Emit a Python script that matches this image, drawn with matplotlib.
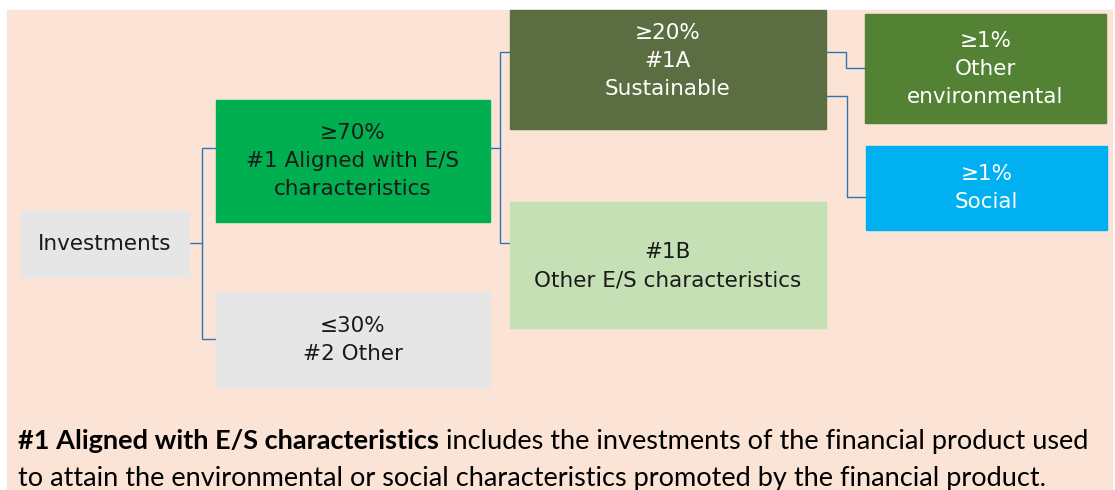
import matplotlib.pyplot as plt
from matplotlib.patches import Rectangle

# box texts and colours
box_labels = ["Investments",
              "≥70%\n#1 Aligned with E/S\ncharacteristics",
              "≤30%\n#2 Other",
              "≥20%\n#1A\nSustainable",
              "#1B\nOther E/S characteristics",
              "≥1%\nOther\nenvironmental",
              "≥1%\nSocial"]
box_colors = ["#E6E6E6", "#00B050", "#E6E6E6", "#5B6E41", "#C5E0B4", "#548235", "#00B0F0"]
text_colors = ["#1a1a1a", "#1a1a1a", "#1a1a1a", "white", "#1a1a1a", "white", "white"]

note_bold = "#1 Aligned with E/S characteristics"
note_rest = " includes the investments of the financial product used"
note_line2 = "to attain the environmental or social characteristics promoted by the financial product."

# layout in pixels: left, top, right, bottom  (+ y of text centre)
box_pos = [(21, 211, 189, 277), (216, 100, 490, 222), (216, 292, 490, 387),
           (510, 10, 826, 129), (510, 202, 826, 328), (865, 14, 1106, 123),
           (866, 146, 1107, 230)]
text_y = [244, 161, 340, 61, 266, 69, 188]

# connectors (elbows)
links = [[(189, 243), (202, 243)], [(216, 148), (202, 148), (202, 339), (216, 339)],
         [(490, 148), (500, 148)], [(510, 52), (500, 52), (500, 243), (510, 243)],
         [(826, 52), (846, 52), (846, 68), (865, 68)],
         [(826, 96), (847, 96), (847, 197), (866, 197)]]

fig = plt.figure(figsize=(11.15, 4.9), dpi=100)
ax = fig.add_axes([0, 0, 1, 1])
ax.set_xlim(0, 1115)
ax.set_ylim(490, 0)
ax.axis("off")

ax.add_patch(Rectangle((7, 10), 1105, 480, color="#FBE3D6", zorder=0))

for pts in links:
    xs, ys = zip(*pts)
    ax.plot(xs, ys, color="#2E75B6", lw=1.0, zorder=1)

for lab, col, tc, (x0, y0, x1, y1), ty in zip(box_labels, box_colors, text_colors, box_pos, text_y):
    ax.add_patch(Rectangle((x0, y0), x1 - x0, y1 - y0, color=col, zorder=2))
    lines = lab.split("\n")
    n = len(lines)
    for i, ln in enumerate(lines):
        ax.text((x0 + x1) / 2, ty + (i - (n - 1) / 2) * 28, ln, ha="center", va="center",
                color=tc, fontsize=15.5, family="DejaVu Sans", zorder=3)

# footnote, fitted to the width of the original line
r = fig.canvas.get_renderer()
fs = 16
t1 = ax.text(18, 449, note_bold, fontweight="bold", family="Lato", fontsize=fs, va="baseline")
t2 = ax.text(0, 449, note_rest, family="Lato", fontsize=fs, va="baseline")
w = t1.get_window_extent(r).width + t2.get_window_extent(r).width
fs = fs * 1077 / w
t1.set_fontsize(fs)
t2.set_fontsize(fs)
t2.set_x(18 + t1.get_window_extent(r).width)
ax.text(18, 486, note_line2, family="Lato", fontsize=fs, va="baseline")

fig.savefig("out.png", dpi=100)
